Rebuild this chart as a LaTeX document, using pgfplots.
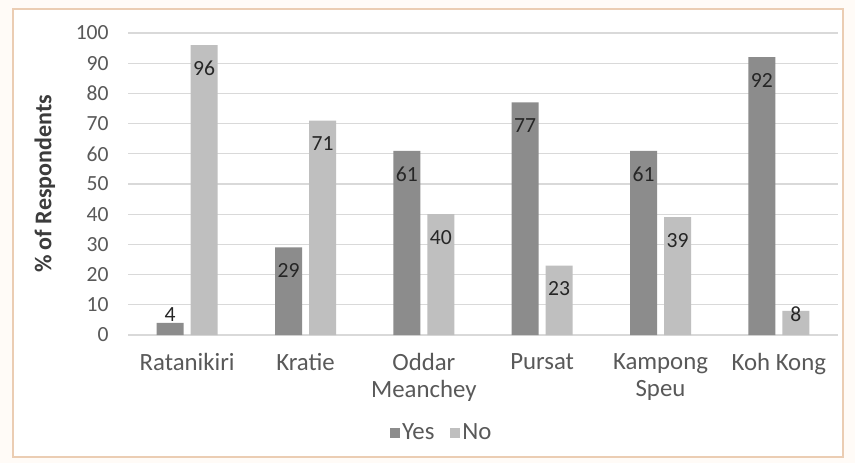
\documentclass[border=0pt]{standalone}
\usepackage{pgfplots}
\pgfplotsset{compat=1.18}
\usepackage{pgfplotstable}
\usepackage{fontspec}
\setmainfont{Carlito}
\definecolor{yescol}{HTML}{8C8C8C}
\definecolor{nocol}{HTML}{BFBFBF}
\definecolor{gridcol}{HTML}{D9D9D9}
\definecolor{framecol}{HTML}{EBCDB3}
\definecolor{tickcol}{HTML}{595959}
\definecolor{valcol}{HTML}{262626}
\pgfplotstableread{
x y dy
0 4 4
1 29 -11.5
2 61 -11.5
3 77 -11.5
4 61 -11.5
5 92 -11.5
}\yestable
\pgfplotstableread{
x y dy
0 96 -11.5
1 71 -11.5
2 40 -11.5
3 23 -11.5
4 39 -11.5
5 8 -1.5
}\notable
\begin{document}
\begin{tikzpicture}[x=0.5pt,y=0.5pt]
\fill[white!97!orange] (0,0) rectangle (855,463);
\fill[white] (13,6) rectangle (843,454);
\draw[framecol, line width=1pt] (13,6) rectangle (843,454);
\path[use as bounding box] (0,0) rectangle (855,463);
\begin{axis}[
  at={(64pt,64pt)}, anchor=south west,
  scale only axis, width=355pt, height=151pt,
  xmin=-0.5, xmax=5.5, ymin=0, ymax=100,
  ytick={0,10,...,100},
  xtick={0,1,2,3,4,5},
  xticklabels={Ratanikiri,Kratie,{Oddar\\Meanchey},Pursat,{Kampong\\Speu},Koh Kong},
  axis line style={draw=none},
  major tick length=0pt,
  ymajorgrids, grid style={gridcol, line width=0.6pt},
  /pgf/number format/assume math mode=true,
  yticklabel style={anchor=east, inner sep=0pt, xshift=-9.5pt, font=\fontsize{10.8}{12}\selectfont, text=tickcol},
  xticklabel style={anchor=north, inner sep=0pt, yshift=-9pt, align=center, font=\fontsize{12.4}{13.5}\selectfont, text=tickcol},
  ylabel={\% of Respondents},
  ylabel style={at={(axis description cs:-0.117,0.5)}, anchor=center, font=\bfseries\fontsize{12}{14}\selectfont, text=valcol!90!white},
  legend columns=2,
  legend style={at={(axis description cs:0.442,-0.3245)}, anchor=center, draw=none, fill=none,
    font=\fontsize{12.4}{14}\selectfont, text=tickcol, inner sep=0pt,
    nodes={inner sep=1pt},
    /tikz/every even column/.append style={column sep=7pt}},
  legend image code/.code={\fill[#1] (0pt,-2.5pt) rectangle (5pt,2.5pt);},
]
\addplot[ybar, bar width=13.5pt, bar shift=-8.5pt, fill=yescol, draw=none,
  visualization depends on={\thisrow{dy}\as\dy},
  nodes near coords,
  every node near coord/.append style={anchor=center, xshift=-8.5pt, yshift=\dy pt, font=\fontsize{10.8}{12}\selectfont, text=valcol}]
  table[x=x,y=y]{\yestable};
\addlegendentry{Yes}
\addplot[ybar, bar width=13.5pt, bar shift=8.5pt, fill=nocol, draw=none,
  visualization depends on={\thisrow{dy}\as\dy},
  nodes near coords,
  every node near coord/.append style={anchor=center, xshift=8.5pt, yshift=\dy pt, font=\fontsize{10.8}{12}\selectfont, text=valcol}]
  table[x=x,y=y]{\notable};
\addlegendentry{No}
\end{axis}
\end{tikzpicture}
\end{document}
